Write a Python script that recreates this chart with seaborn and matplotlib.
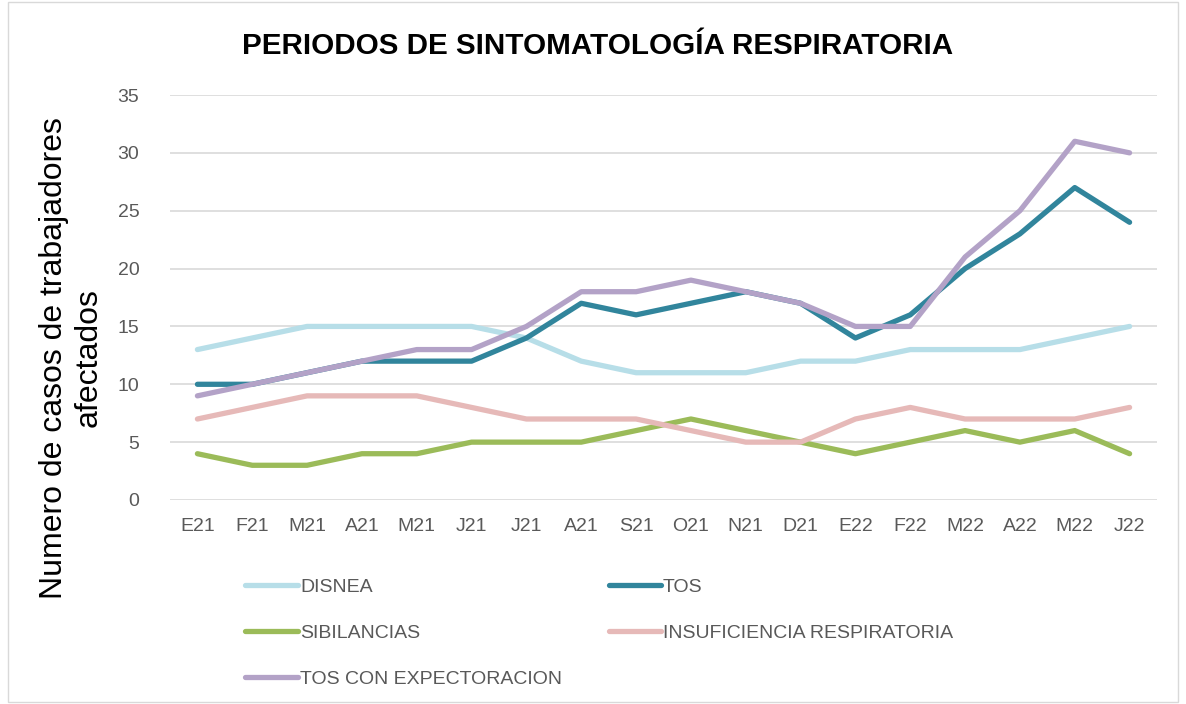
import pandas as pd
import matplotlib
matplotlib.use("Agg")
import matplotlib.pyplot as plt
import seaborn as sns
from matplotlib.patches import Rectangle

# Data
meses = ["E21", "F21", "M21", "A21", "M21", "J21", "J21", "A21", "S21",
         "O21", "N21", "D21", "E22", "F22", "M22", "A22", "M22", "J22"]
disnea = [13, 14, 15, 15, 15, 15, 14, 12, 11, 11, 11, 12, 12, 13, 13, 13, 14, 15]
tos = [10, 10, 11, 12, 12, 12, 14, 17, 16, 17, 18, 17, 14, 16, 20, 23, 27, 24]
sibilancias = [4, 3, 3, 4, 4, 5, 5, 5, 6, 7, 6, 5, 4, 5, 6, 5, 6, 4]
insuficiencia = [7, 8, 9, 9, 9, 8, 7, 7, 7, 6, 5, 5, 7, 8, 7, 7, 7, 8]
tos_expect = [9, 10, 11, 12, 13, 13, 15, 18, 18, 19, 18, 17, 15, 15, 21, 25, 31, 30]

series = {
    "DISNEA": disnea,
    "TOS": tos,
    "SIBILANCIAS": sibilancias,
    "INSUFICIENCIA RESPIRATORIA": insuficiencia,
    "TOS CON EXPECTORACION": tos_expect,
}
colores = {
    "DISNEA": "#B7DEE8",
    "TOS": "#31859C",
    "SIBILANCIAS": "#9BBB59",
    "INSUFICIENCIA RESPIRATORIA": "#E6B9B8",
    "TOS CON EXPECTORACION": "#B3A2C7",
}

# long format for seaborn, numeric x since month labels repeat
filas = []
for nombre, valores in series.items():
    for i, v in enumerate(valores):
        filas.append({"idx": i, "casos": v, "sintoma": nombre})
df = pd.DataFrame(filas)

sns.set_style("white")
plt.rcParams["font.family"] = ["Liberation Sans", "DejaVu Sans"]

fig = plt.figure(figsize=(11.86, 7.04), dpi=100)
ax = fig.add_axes([170 / 1186, 1 - 500 / 704, 987 / 1186, 405 / 704])

sns.lineplot(data=df, x="idx", y="casos", hue="sintoma", palette=colores,
             linewidth=3.8, ax=ax, legend=False, solid_capstyle="round")

ax.set_xlim(-0.5, len(meses) - 0.5)
ax.set_ylim(0, 35)
ax.set_yticks(range(0, 36, 5))
ax.set_xticks(range(len(meses)))
ax.set_xticklabels(meses)
ax.tick_params(axis="both", colors="#595959", labelsize=14, length=0)
ax.tick_params(axis="x", pad=13)
ax.tick_params(axis="y", pad=22)
ax.yaxis.grid(True, color="#D9D9D9", linewidth=1.2)
ax.set_axisbelow(True)
for s in ax.spines.values():
    s.set_visible(False)
ax.set_xlabel("")
ax.set_ylabel("")

fig.text(598 / 1186, 1 - 46 / 704, "PERIODOS DE SINTOMATOLOGÍA RESPIRATORIA",
         ha="center", va="center", fontsize=21.3, fontweight="bold", color="black")
fig.text(71 / 1186, 1 - 358 / 704, "Numero de casos de trabajadores\nafectados",
         ha="center", va="center", rotation=90, fontsize=23, color="black",
         linespacing=1.2)

# legend laid out as in reference: two columns, filled row by row
orden = ["DISNEA", "SIBILANCIAS", "TOS CON EXPECTORACION", "TOS", "INSUFICIENCIA RESPIRATORIA"]
handles = [plt.Line2D([], [], color=colores[n], linewidth=3.8, solid_capstyle="round") for n in orden]
leg = fig.legend(handles, orden, ncol=2, loc="upper left",
                 bbox_to_anchor=(228 / 1186, 1 - 561 / 704), frameon=False,
                 fontsize=14, handlelength=2.7, handletextpad=0.1,
                 columnspacing=2.4, labelspacing=1.45)
for t in leg.get_texts():
    t.set_color("#595959")

fig.patches.append(Rectangle((8 / 1186, 2 / 704), 1170 / 1186, 700 / 704,
                             transform=fig.transFigure, fill=False,
                             edgecolor="#D9D9D9", linewidth=1))

fig.savefig("out.png", dpi=100)
